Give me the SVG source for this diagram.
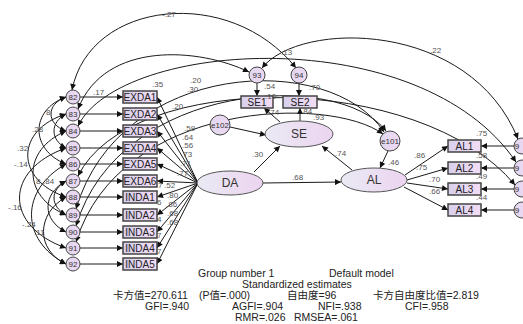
<svg xmlns="http://www.w3.org/2000/svg" width="523" height="324" viewBox="0 0 523 324">
<style>
.ln{fill:none;stroke:#1a1a1a;stroke-width:1}
.ar{marker-end:url(#a)}
.cv{marker-start:url(#a);marker-end:url(#a)}
.bx{fill:url(#gb);stroke:#444;stroke-width:1.5}
.ci{fill:url(#gc);stroke:#444;stroke-width:1}
.el{fill:url(#ge);stroke:#555;stroke-width:1}
.n{font-family:"Liberation Sans",Arial,sans-serif;font-size:10px;fill:#222;text-anchor:middle}
.s{font-family:"Liberation Sans",Arial,sans-serif;font-size:8px;fill:#333;text-anchor:middle}
.L{font-family:"Liberation Sans",Arial,sans-serif;font-size:12px;fill:#333;text-anchor:middle}
.v{font-family:"Liberation Sans",Arial,sans-serif;font-size:8px;fill:#555}
.t{font-family:"Liberation Sans","Noto Sans CJK SC",sans-serif;font-size:10.5px;fill:#222}
</style>
<defs>
<marker id="a" viewBox="0 0 10 10" refX="10" refY="5" markerWidth="8" markerHeight="6" markerUnits="userSpaceOnUse" orient="auto-start-reverse"><path d="M0,0 L10,5 L0,10 z" fill="#111"/></marker>
<linearGradient id="gb" x1="0" x2="1"><stop offset="0" stop-color="#d8d0ec"/><stop offset="1" stop-color="#f2dcf4"/></linearGradient>
<linearGradient id="gc" x1="0" x2="1"><stop offset="0" stop-color="#e0d8f0"/><stop offset="1" stop-color="#f0d8f2"/></linearGradient>
<linearGradient id="ge" x1="0" x2="1"><stop offset="0" stop-color="#eaeaf4"/><stop offset="1" stop-color="#ecd4f0"/></linearGradient>
</defs>
<rect width="523" height="324" fill="#fff"/>
<g id="connectors">
<path class="ln ar" d="M80,97 L123,97"/>
<path class="ln ar" d="M80,114 L123,114"/>
<path class="ln ar" d="M80,131 L123,131"/>
<path class="ln ar" d="M80,148 L123,148"/>
<path class="ln ar" d="M80,164 L123,164"/>
<path class="ln ar" d="M80,181 L123,181"/>
<path class="ln ar" d="M80,197 L123,197"/>
<path class="ln ar" d="M80,215 L123,215"/>
<path class="ln ar" d="M80,232 L123,232"/>
<path class="ln ar" d="M80,248 L123,248"/>
<path class="ln ar" d="M80,264 L123,264"/>
<path class="ln ar" d="M198,183 L157,97"/>
<path class="ln ar" d="M198,183 L157,114"/>
<path class="ln ar" d="M198,183 L157,131"/>
<path class="ln ar" d="M198,183 L157,148"/>
<path class="ln ar" d="M198,183 L157,164"/>
<path class="ln ar" d="M198,183 L157,181"/>
<path class="ln ar" d="M198,183 L157,197"/>
<path class="ln ar" d="M198,183 L157,215"/>
<path class="ln ar" d="M198,183 L157,232"/>
<path class="ln ar" d="M198,183 L157,248"/>
<path class="ln ar" d="M198,183 L157,264"/>
<path class="ln ar" d="M254,172 L280,146"/>
<path class="ln ar" d="M263,183 L341,182"/>
<path class="ln ar" d="M352,170 L322,146"/>
<path class="ln ar" d="M230,127 L266,135"/>
<path class="ln ar" d="M388,151 L380,168"/>
<path class="ln ar" d="M280,122 L264,108"/>
<path class="ln ar" d="M300,121 L300,108"/>
<path class="ln ar" d="M257,83 L257,96"/>
<path class="ln ar" d="M299,83 L299,96"/>
<path class="ln ar" d="M405,175 L448,146"/>
<path class="ln ar" d="M407,180 L448,168"/>
<path class="ln ar" d="M407,183 L448,189"/>
<path class="ln ar" d="M404,187 L448,210"/>
<path class="ln ar" d="M514,146 L481,146"/>
<path class="ln ar" d="M514,168 L481,168"/>
<path class="ln ar" d="M514,189 L481,189"/>
<path class="ln ar" d="M514,210 L481,210"/>
<path class="ln cv" d="M66,97 C46,104 46,124 66,131"/>
<path class="ln cv" d="M66,97 C30,110 30,150 66,164"/>
<path class="ln cv" d="M66,114 C15,130 15,180 66,197"/>
<path class="ln cv" d="M66,131 C22,150 22,196 66,215"/>
<path class="ln cv" d="M66,148 C4,170 4,226 66,248"/>
<path class="ln cv" d="M66,164 C20,190 20,240 66,264"/>
<path class="ln cv" d="M66,181 C42,194 42,220 66,232"/>
<path class="ln cv" d="M66,197 C36,214 36,250 66,264"/>
<path class="ln cv" d="M66,114 C50,122 50,140 66,148"/>
<path class="ln cv" d="M66,181 C50,190 50,206 66,215"/>
<path class="ln cv" d="M72,90 C90,0 230,-15 296,68"/>
<path class="ln cv" d="M78,109 C105,40 200,48 249,72"/>
<path class="ln cv" d="M78,126 C120,40 420,20 516,162"/>
<path class="ln cv" d="M78,176 C130,70 420,70 515,185"/>
<path class="ln cv" d="M262,68 C300,20 470,20 518,139"/>
<path class="ln cv" d="M76,209 C120,60 330,50 384,132"/>
<path class="ln cv" d="M76,226 C120,80 340,70 386,131"/>
<path class="ln cv" d="M76,242 C120,100 330,95 383,134"/>
</g>
<g id="e82"><circle class="ci" cx="73" cy="97" r="7"/><text class="s" x="73" y="100">82</text></g>
<g id="e83"><circle class="ci" cx="73" cy="114" r="7"/><text class="s" x="73" y="117">83</text></g>
<g id="e84"><circle class="ci" cx="73" cy="131" r="7"/><text class="s" x="73" y="134">84</text></g>
<g id="e85"><circle class="ci" cx="73" cy="148" r="7"/><text class="s" x="73" y="151">85</text></g>
<g id="e86"><circle class="ci" cx="73" cy="164" r="7"/><text class="s" x="73" y="167">86</text></g>
<g id="e87"><circle class="ci" cx="73" cy="181" r="7"/><text class="s" x="73" y="184">87</text></g>
<g id="e88"><circle class="ci" cx="73" cy="197" r="7"/><text class="s" x="73" y="200">88</text></g>
<g id="e89"><circle class="ci" cx="73" cy="215" r="7"/><text class="s" x="73" y="218">89</text></g>
<g id="e90"><circle class="ci" cx="73" cy="232" r="7"/><text class="s" x="73" y="235">90</text></g>
<g id="e91"><circle class="ci" cx="73" cy="248" r="7"/><text class="s" x="73" y="251">91</text></g>
<g id="e92"><circle class="ci" cx="73" cy="264" r="7"/><text class="s" x="73" y="267">92</text></g>
<g id="EXDA1"><rect class="bx" x="123" y="91" width="34" height="12"/><text class="n" x="140" y="100.5">EXDA1</text></g>
<g id="EXDA2"><rect class="bx" x="123" y="108" width="34" height="12"/><text class="n" x="140" y="117.5">EXDA2</text></g>
<g id="EXDA3"><rect class="bx" x="123" y="125" width="34" height="12"/><text class="n" x="140" y="134.5">EXDA3</text></g>
<g id="EXDA4"><rect class="bx" x="123" y="142" width="34" height="12"/><text class="n" x="140" y="151.5">EXDA4</text></g>
<g id="EXDA5"><rect class="bx" x="123" y="158" width="34" height="12"/><text class="n" x="140" y="167.5">EXDA5</text></g>
<g id="EXDA6"><rect class="bx" x="123" y="175" width="34" height="12"/><text class="n" x="140" y="184.5">EXDA6</text></g>
<g id="INDA1"><rect class="bx" x="123" y="191" width="34" height="12"/><text class="n" x="140" y="200.5">INDA1</text></g>
<g id="INDA2"><rect class="bx" x="123" y="209" width="34" height="12"/><text class="n" x="140" y="218.5">INDA2</text></g>
<g id="INDA3"><rect class="bx" x="123" y="226" width="34" height="12"/><text class="n" x="140" y="235.5">INDA3</text></g>
<g id="INDA4"><rect class="bx" x="123" y="242" width="34" height="12"/><text class="n" x="140" y="251.5">INDA4</text></g>
<g id="INDA5"><rect class="bx" x="123" y="258" width="34" height="12"/><text class="n" x="140" y="267.5">INDA5</text></g>
<g id="DA"><ellipse class="el" cx="230" cy="183" rx="33" ry="12"/><text class="L" x="230" y="187">DA</text></g>
<g id="SE"><ellipse class="el" cx="299" cy="134" rx="34" ry="13"/><text class="L" x="299" y="138">SE</text></g>
<g id="AL"><ellipse class="el" cx="374" cy="180" rx="33" ry="12"/><text class="L" x="374" y="184">AL</text></g>
<g id="e102"><circle class="ci" cx="220" cy="125" r="10"/><text class="s" x="220" y="128" font-size="9">e102</text></g>
<g id="e101"><circle class="ci" cx="390" cy="141" r="10"/><text class="s" x="390" y="144" font-size="9">e101</text></g>
<g id="e93"><circle class="ci" cx="257" cy="75" r="8"/><text class="s" x="257" y="78">93</text></g>
<g id="e94"><circle class="ci" cx="299" cy="75" r="8"/><text class="s" x="299" y="78">94</text></g>
<g id="SE1"><rect class="bx" x="241" y="96" width="32" height="12"/><text class="n" x="257" y="105.5">SE1</text></g>
<g id="SE2"><rect class="bx" x="283" y="96" width="34" height="12"/><text class="n" x="300" y="105.5">SE2</text></g>
<g id="AL1"><rect class="bx" x="448" y="140" width="33" height="12"/><text class="n" x="464.5" y="149.5">AL1</text></g>
<g id="AL2"><rect class="bx" x="448" y="162" width="33" height="12"/><text class="n" x="464.5" y="171.5">AL2</text></g>
<g id="AL3"><rect class="bx" x="448" y="183" width="33" height="12"/><text class="n" x="464.5" y="192.5">AL3</text></g>
<g id="AL4"><rect class="bx" x="448" y="204" width="33" height="12"/><text class="n" x="464.5" y="213.5">AL4</text></g>
<g id="e95"><circle class="ci" cx="522" cy="146" r="8"/><text class="s" x="517" y="149" text-anchor="start">9</text></g>
<g id="e96"><circle class="ci" cx="522" cy="168" r="8"/><text class="s" x="517" y="171" text-anchor="start">9</text></g>
<g id="e97"><circle class="ci" cx="522" cy="189" r="8"/><text class="s" x="517" y="192" text-anchor="start">9</text></g>
<g id="e98"><circle class="ci" cx="522" cy="210" r="8"/><text class="s" x="517" y="213" text-anchor="start">9</text></g>
<g id="values">
<text class="v" x="162" y="17">-.27</text>
<text class="v" x="281" y="55">.13</text>
<text class="v" x="430" y="53">.22</text>
<text class="v" x="152" y="87">.35</text>
<text class="v" x="93" y="95">.17</text>
<text class="v" x="190" y="83">.20</text>
<text class="v" x="187" y="92">.30</text>
<text class="v" x="172" y="109">.20</text>
<text class="v" x="264" y="89">.54</text>
<text class="v" x="265" y="98.5">.10</text>
<text class="v" x="309" y="90">.70</text>
<text class="v" x="268" y="115">.74</text>
<text class="v" x="301" y="114">.84</text>
<text class="v" x="313" y="120">.93</text>
<text class="v" x="184" y="131">.59</text>
<text class="v" x="182" y="139.5">.64</text>
<text class="v" x="182" y="148">.56</text>
<text class="v" x="181" y="156.5">.73</text>
<text class="v" x="180" y="166">.71</text>
<text class="v" x="177" y="176">.77</text>
<text class="v" x="158" y="188">7</text>
<text class="v" x="164" y="188">.52</text>
<text class="v" x="167" y="198">.80</text>
<text class="v" x="157" y="205">6</text>
<text class="v" x="166" y="207">.86</text>
<text class="v" x="157" y="222">4</text>
<text class="v" x="167" y="216">.68</text>
<text class="v" x="167" y="225">.68</text>
<text class="v" x="157" y="238">7</text>
<text class="v" x="157" y="254">7</text>
<text class="v" x="252" y="157">.30</text>
<text class="v" x="292" y="180">.68</text>
<text class="v" x="335" y="156">.74</text>
<text class="v" x="388" y="165">.46</text>
<text class="v" x="414" y="158">.86</text>
<text class="v" x="416" y="170">.75</text>
<text class="v" x="429" y="182">.70</text>
<text class="v" x="429" y="194">.66</text>
<text class="v" x="476" y="136">.75</text>
<text class="v" x="476" y="158">.58</text>
<text class="v" x="476" y="179">.49</text>
<text class="v" x="476" y="200">.44</text>
<text class="v" x="46" y="115">8</text>
<text class="v" x="32" y="132">.28</text>
<text class="v" x="17" y="151">.32</text>
<text class="v" x="14" y="167">-.14</text>
<text class="v" x="36" y="184">8</text>
<text class="v" x="43" y="184">.84</text>
<text class="v" x="8" y="210">-.16</text>
<text class="v" x="22" y="227">-.24</text>
<text class="v" x="34" y="235">.11</text>
</g>
<g id="summary">
<text class="t" x="198" y="277">Group number 1</text>
<text class="t" x="329" y="277">Default model</text>
<text class="t" x="242" y="288">Standardized estimates</text>
<text class="t" x="113" y="299">卡方值=270.611</text>
<text class="t" x="199" y="299">(P值=.000)</text>
<text class="t" x="287" y="299">自由度=96</text>
<text class="t" x="373" y="299">卡方自由度比值=2.819</text>
<text class="t" x="145" y="310">GFI=.940</text>
<text class="t" x="232" y="310">AGFI=.904</text>
<text class="t" x="318" y="310">NFI=.938</text>
<text class="t" x="405" y="310">CFI=.958</text>
<text class="t" x="235" y="321">RMR=.026</text>
<text class="t" x="294" y="321">RMSEA=.061</text>
</g>
</svg>
